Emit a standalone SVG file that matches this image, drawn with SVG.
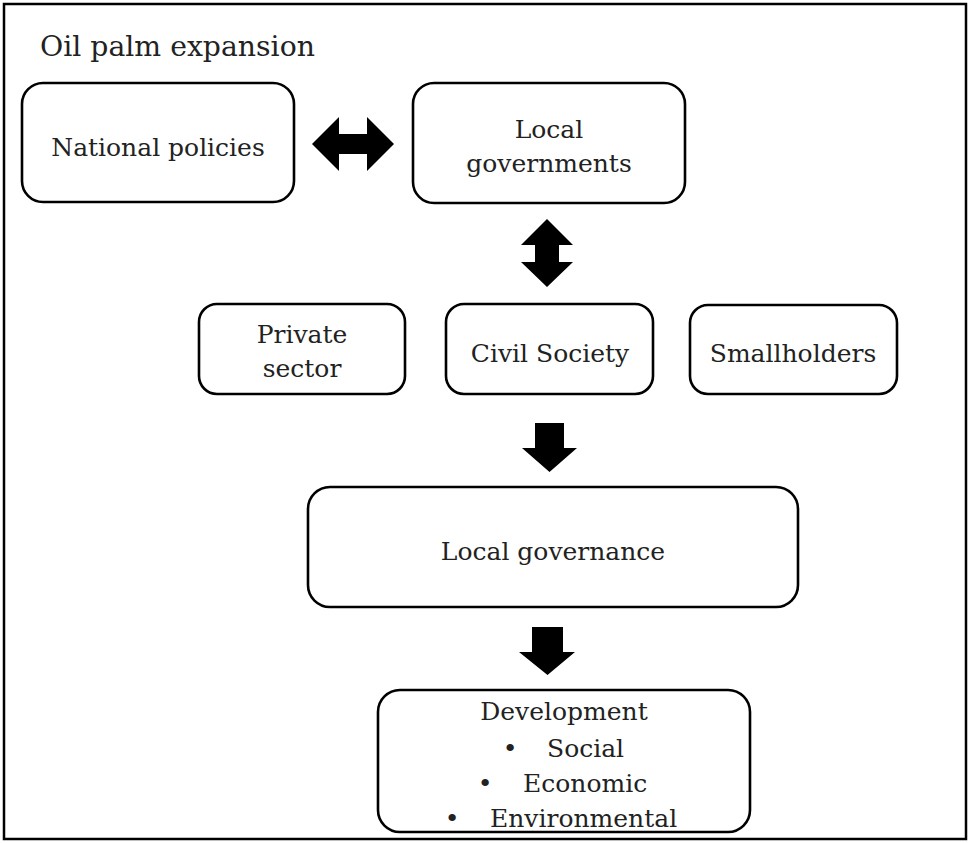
<svg xmlns="http://www.w3.org/2000/svg" width="970" height="843" viewBox="0 0 970 843">
<style>
.box{fill:#fff;stroke:#000;stroke-width:2.6}
.t{font-family:"DejaVu Serif","Liberation Serif",serif;font-size:25px;fill:#222;text-anchor:middle}
.arr{fill:#000}
</style>
<rect x="0" y="0" width="970" height="843" fill="#fff"/>
<rect x="4" y="4" width="962" height="835" fill="none" stroke="#000" stroke-width="2.5"/>
<text x="40" y="56" style="font-family:'DejaVu Serif','Liberation Serif',serif;font-size:28.3px;fill:#222">Oil palm expansion</text>
<g id="national-policies">
<rect class="box" x="22" y="83" width="272" height="119" rx="21"/>
<text class="t" x="158" y="156">National policies</text>
</g>
<g id="local-governments">
<rect class="box" x="413" y="83" width="272" height="120" rx="21"/>
<text class="t" x="549" y="138">Local</text>
<text class="t" x="549" y="172">governments</text>
</g>
<g id="private-sector">
<rect class="box" x="199" y="304" width="206" height="90" rx="18"/>
<text class="t" x="302" y="343">Private</text>
<text class="t" x="302" y="377">sector</text>
</g>
<g id="civil-society">
<rect class="box" x="446" y="304" width="207" height="90" rx="18"/>
<text class="t" x="550" y="362">Civil Society</text>
</g>
<g id="smallholders">
<rect class="box" x="690" y="305" width="207" height="89" rx="18"/>
<text class="t" x="793" y="362">Smallholders</text>
</g>
<g id="local-governance">
<rect class="box" x="308" y="487" width="490" height="120" rx="22"/>
<text class="t" x="553" y="560">Local governance</text>
</g>
<g id="development">
<rect class="box" x="378" y="690" width="372" height="142" rx="22"/>
<text class="t" x="564" y="720">Development</text>
<text class="t" y="757"><tspan x="510">•</tspan><tspan x="547" style="text-anchor:start">Social</tspan></text>
<text class="t" y="792"><tspan x="485">•</tspan><tspan x="523" style="text-anchor:start">Economic</tspan></text>
<text class="t" y="827"><tspan x="452">•</tspan><tspan x="490" style="text-anchor:start">Environmental</tspan></text>
</g>
<g id="connectors">
<polygon class="arr" points="312,144 339,117 339,134 367,134 367,117 394,144 367,171 367,154 339,154 339,171"/>
<polygon class="arr" points="547,219 573,245 559,245 559,262 573,262 547,287 521,262 535,262 535,245 521,245"/>
<polygon class="arr" points="535,423 564,423 564,448 577,448 549.5,472 522,448 535,448"/>
<polygon class="arr" points="532,627 563,627 563,652 575,652 547.5,675 519,652 532,652"/>
</g>
</svg>
